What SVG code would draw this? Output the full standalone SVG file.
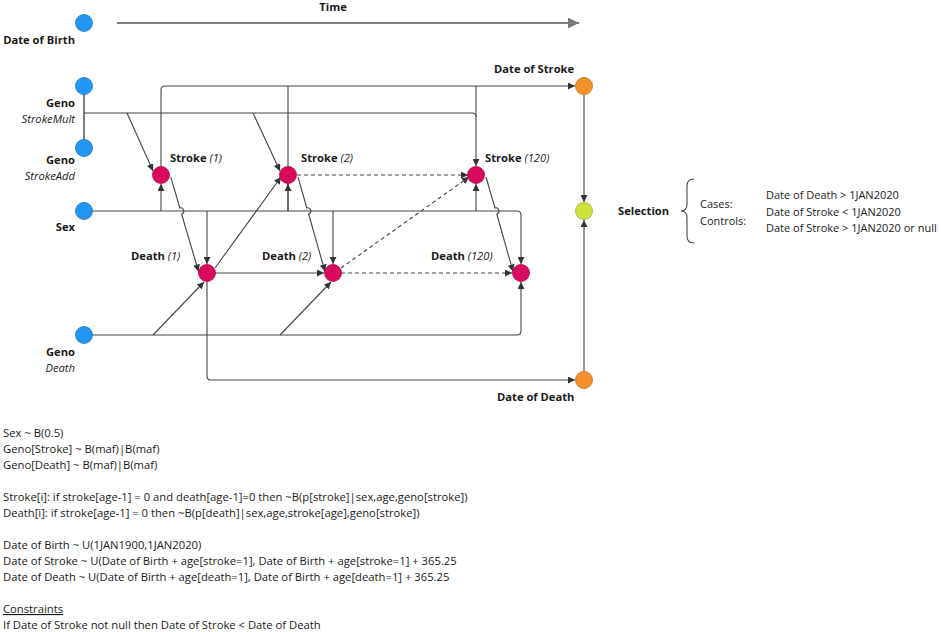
<svg xmlns="http://www.w3.org/2000/svg" width="941" height="632" viewBox="0 0 941 632">
<defs>
<marker id="ah" viewBox="0 0 8 8" refX="8" refY="4" markerWidth="7" markerHeight="7" markerUnits="userSpaceOnUse" orient="auto"><path d="M0,0 L8,4 L0,8 z" fill="#333"/></marker>
<marker id="big" viewBox="0 0 10 10" refX="10" refY="5" markerWidth="11" markerHeight="11" markerUnits="userSpaceOnUse" orient="auto"><path d="M0,0 L10,5 L0,10 z" fill="#777"/></marker>
</defs>
<style>
.c{fill:none;stroke:#444;stroke-width:1.1}
.a{marker-end:url(#ah)}
.d{stroke-dasharray:4 3}
.g{fill:none;stroke:#7a7a7a;stroke-width:2}
.blue{fill:#2196f3;stroke:#1976c2;stroke-width:0.8}
.red{fill:#d80a5e;stroke:#b0004a;stroke-width:0.8}
.org{fill:#f5912a;stroke:#c86c10;stroke-width:0.8}
.grn{fill:#cde23a;stroke:#9fb020;stroke-width:0.8}
text{font-family:"Open Sans","Noto Sans","Liberation Sans",sans-serif;fill:#1a1a1a}
.b{font-weight:bold;font-size:11.2px}
.i{font-style:italic;font-weight:normal}
.it{font-style:italic;font-size:11.2px}
.t{font-size:11.25px}
.r{text-anchor:end}
</style>
<g id="connectors">
<line class="g" x1="117" y1="23" x2="579" y2="23" marker-end="url(#big)"/>
<line class="g" x1="84" y1="86" x2="84" y2="148"/>
<path class="c a" d="M161,167 V90 Q161,86 165,86 H575"/>
<path class="c" d="M288,211 V86"/>
<path class="c a" d="M476,86 V166"/>
<path class="c" d="M84,113 H472 Q476,113 476,117"/>
<path class="c a" d="M161,211 V184"/>
<path class="c a" d="M288,211 V184"/>
<path class="c a" d="M476,211 V184"/>
<path class="c a" d="M92,211 H517 Q521,211 521,215 V264"/>
<path class="c a" d="M207,211 V264"/>
<path class="c a" d="M333,211 V264"/>
<path class="c a" d="M127,113 L153,171"/>
<path class="c a" d="M253,113 L280,171"/>
<path class="c a" d="M170.7,176.7 L179.8,208 A3,3 0 0 1 181.6,214 L198.5,271.5"/>
<path class="c a" d="M298,177 L306.8,208 A3,3 0 0 1 308.6,214 L325,271.5"/>
<path class="c a" d="M486,177 L495,208 A3,3 0 0 1 496.8,214 L513,271.5"/>
<path class="c a" d="M215,268 L281,177"/>
<path class="c a" d="M215,273 H324"/>
<path class="c a d" d="M341,273 H512"/>
<path class="c a d" d="M297,175 H468"/>
<path class="c a d" d="M341,268 L469,177"/>
<path class="c a" d="M92,335 H517 Q521,335 521,331 V282"/>
<path class="c a" d="M153,335 L204,282"/>
<path class="c a" d="M280,335 L331,282"/>
<path class="c a" d="M207,282 V376 Q207,380 211,380 H575"/>
<path class="c a" d="M584,95 V202"/>
<path class="c a" d="M584,372 V220"/>
<path class="c" d="M694,179 Q687,179 687,186 V204 Q687,211 681,211 Q687,211 687,218 V236 Q687,243 694,243"/>
</g>
<g id="n-dob"><circle class="blue" cx="84" cy="23" r="8.5"/><text class="b r" x="75" y="44">Date of Birth</text></g>
<g id="n-gsm"><circle class="blue" cx="84" cy="86" r="8.5"/><text class="b r" x="75" y="107">Geno</text><text class="it r" x="75" y="123">StrokeMult</text></g>
<g id="n-gsa"><circle class="blue" cx="84" cy="148" r="8.5"/><text class="b r" x="75" y="164">Geno</text><text class="it r" x="75" y="180">StrokeAdd</text></g>
<g id="n-sex"><circle class="blue" cx="84" cy="211" r="8.5"/><text class="b r" x="75" y="231">Sex</text></g>
<g id="n-gd"><circle class="blue" cx="84" cy="335" r="8.5"/><text class="b r" x="75" y="356">Geno</text><text class="it r" x="75" y="372">Death</text></g>
<g id="n-s1"><circle class="red" cx="161" cy="175" r="8.5"/><text class="b" x="170" y="162">Stroke <tspan class="i">(1)</tspan></text></g>
<g id="n-s2"><circle class="red" cx="288" cy="175" r="8.5"/><text class="b" x="301" y="162">Stroke <tspan class="i">(2)</tspan></text></g>
<g id="n-s120"><circle class="red" cx="476" cy="175" r="8.5"/><text class="b" x="485" y="162">Stroke <tspan class="i">(120)</tspan></text></g>
<g id="n-d1"><circle class="red" cx="207" cy="273" r="8.5"/><text class="b" x="131" y="260">Death <tspan class="i">(1)</tspan></text></g>
<g id="n-d2"><circle class="red" cx="333" cy="273" r="8.5"/><text class="b" x="262" y="260">Death <tspan class="i">(2)</tspan></text></g>
<g id="n-d120"><circle class="red" cx="521" cy="273" r="8.5"/><text class="b" x="431" y="260">Death <tspan class="i">(120)</tspan></text></g>
<g id="n-dos"><circle class="org" cx="584" cy="86" r="8.5"/><text class="b" x="494" y="73">Date of Stroke</text></g>
<g id="n-sel"><circle class="grn" cx="584" cy="211" r="8.5"/><text class="b" x="618" y="215">Selection</text></g>
<g id="n-dod"><circle class="org" cx="584" cy="380" r="8.5"/><text class="b" x="497" y="401">Date of Death</text></g>
<g id="time"><text class="b" x="333" y="11" text-anchor="middle">Time</text></g>
<g id="criteria">
<text class="t" x="700" y="208" style="font-size:11px">Cases:</text>
<text class="t" x="700" y="225" style="font-size:11px">Controls:</text>
<text class="t" x="766" y="199" style="font-size:11px">Date of Death &gt; 1JAN2020</text>
<text class="t" x="766" y="216" style="font-size:11px">Date of Stroke &lt; 1JAN2020</text>
<text class="t" x="766" y="232" style="font-size:11px">Date of Stroke &gt; 1JAN2020 or null</text>
</g>
<g id="notes">
<text class="t" x="3" y="437">Sex ~ B(0.5)</text>
<text class="t" x="3" y="453">Geno[Stroke] ~ B(maf)|B(maf)</text>
<text class="t" x="3" y="469">Geno[Death] ~ B(maf)|B(maf)</text>
<text class="t" x="3" y="501">Stroke[i]: if stroke[age-1] = 0 and death[age-1]=0 then ~B(p[stroke]|sex,age,geno[stroke])</text>
<text class="t" x="3" y="517">Death[i]: if stroke[age-1] = 0 then ~B(p[death]|sex,age,stroke[age],geno[stroke])</text>
<text class="t" x="3" y="549">Date of Birth ~ U(1JAN1900,1JAN2020)</text>
<text class="t" x="3" y="565">Date of Stroke ~ U(Date of Birth + age[stroke=1], Date of Birth + age[stroke=1] + 365.25</text>
<text class="t" x="3" y="581">Date of Death ~ U(Date of Birth + age[death=1], Date of Birth + age[death=1] + 365.25</text>
<text class="t" x="3" y="613" text-decoration="underline">Constraints</text>
<text class="t" x="3" y="629">If Date of Stroke not null then Date of Stroke &lt; Date of Death</text>
</g>
</svg>
